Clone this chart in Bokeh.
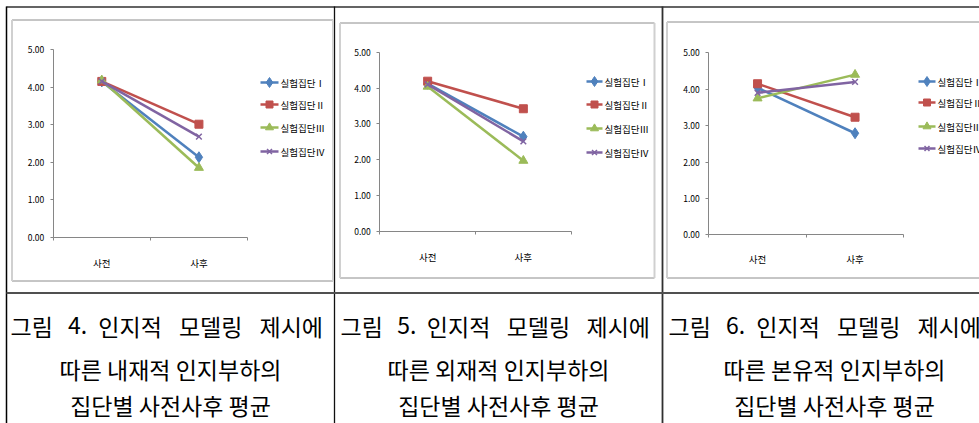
from bokeh.plotting import figure
from bokeh.models import Range1d, LinearAxis, FixedTicker, NumeralTickFormatter, ColumnDataSource
from bokeh.core.properties import value
from bokeh.embed import file_html
from bokeh.resources import INLINE

# ---------------- data ----------------
categories = ["사전", "사후"]
series_names = ["실험집단Ⅰ", "실험집단Ⅱ", "실험집단Ⅲ", "실험집단Ⅳ"]
y_ticks = [0, 1, 2, 3, 4, 5]

fig4_g1 = [4.15, 2.13]
fig4_g2 = [4.15, 3.01]
fig4_g3 = [4.18, 1.85]
fig4_g4 = [4.15, 2.68]

fig5_g1 = [4.12, 2.64]
fig5_g2 = [4.19, 3.42]
fig5_g3 = [4.04, 1.97]
fig5_g4 = [4.10, 2.51]

fig6_g1 = [4.04, 2.79]
fig6_g2 = [4.15, 3.23]
fig6_g3 = [3.75, 4.40]
fig6_g4 = [3.90, 4.20]

caption4 = ["그림 4. 인지적 모델링 제시에", "따른 내재적 인지부하의", "집단별 사전사후 평균"]
caption5 = ["그림 5. 인지적 모델링 제시에", "따른 외재적 인지부하의", "집단별 사전사후 평균"]
caption6 = ["그림 6. 인지적 모델링 제시에", "따른 본유적 인지부하의", "집단별 사전사후 평균"]

# ---------------- styles / layout ----------------
W, H = 979, 423
FONT = "Noto Sans CJK KR"
CAP_SIZE = 23
colors = ["#4F81BD", "#C0504D", "#9BBB59", "#8064A2"]
markers = ["diamond", "square", "triangle", "x"]
msizes = [11, 8, 9, 8]

panels = [
    dict(data=[fig4_g1, fig4_g2, fig4_g3, fig4_g4], caption=caption4,
         ax0=52.7, ax2=247.0, y0=236.7, y5=49.0, xlab_off=16,
         frame=(11.5, 19.5, 332.5, 280.5), leg_x=(260, 278), leg_y=[82, 104, 127, 151],
         cap_x=170, cap_span=(10, 328)),
    dict(data=[fig5_g1, fig5_g2, fig5_g3, fig5_g4], caption=caption5,
         ax0=379.3, ax2=570.7, y0=230.7, y5=51.7, xlab_off=16,
         frame=(339.5, 22.5, 654.0, 277.5), leg_x=(586, 602), leg_y=[81, 104, 128, 152],
         cap_x=498, cap_span=(340, 655)),
    dict(data=[fig6_g1, fig6_g2, fig6_g3, fig6_g4], caption=caption6,
         ax0=708.3, ax2=903.3, y0=234.3, y5=52.3, xlab_off=14,
         frame=(666.5, 21.5, 990.0, 277.5), leg_x=(918, 935), leg_y=[81, 102, 126, 148],
         cap_x=834, cap_span=(668, 986)),
]
caption_y = [325, 368, 404]


def text_width(s, size):
    w = 0.0
    for ch in s:
        if ord(ch) >= 0x1100:
            w += 1.0
        elif ch.isdigit():
            w += 0.55
        elif ch == ".":
            w += 0.26
        else:
            w += 0.3
    return w * size


p = figure(width=W, height=H, x_range=Range1d(0, W), y_range=Range1d(H, 0),
           output_backend="svg", toolbar_location=None,
           x_axis_type=None, y_axis_type=None, min_border=0,
           outline_line_color=None, background_fill_color="white",
           border_fill_color="white")

# table lines
p.segment(x0=[6, 6, 334, 662, 6], y0=[6.5, 6, 6, 6, 292.5],
          x1=[W, 6, 334, 662, W], y1=[6.5, H, H, H, 292.5],
          line_color=["#303030", "#000000", "#101010", "#303030", "#505050"],
          line_width=[1.5, 1.5, 1.3, 1.8, 2])

cat_pos = [i + 0.5 for i in range(len(categories))]
x_overrides = {i + 0.5: c for i, c in enumerate(categories)}

for k, pn in enumerate(panels):
    fx0, fy0, fx1, fy1 = pn["frame"]
    # chart-area frame
    p.segment(x0=[fx0, fx0], y0=[fy0, fy1], x1=[fx1, fx1], y1=[fy0, fy1],
              line_color="#8c8c8c", line_width=1)
    p.segment(x0=[fx0, fx1], y0=[fy0, fy0], x1=[fx0, fx1], y1=[fy1, fy1],
              line_color="#d0d0d0", line_width=2)

    xn, yn = f"x{k}", f"y{k}"
    sx = (pn["ax2"] - pn["ax0"]) / len(categories)
    sy = (pn["y0"] - pn["y5"]) / 5.0
    p.extra_x_ranges[xn] = Range1d(start=-pn["ax0"] / sx, end=(W - pn["ax0"]) / sx)
    p.extra_y_ranges[yn] = Range1d(start=(pn["y0"] - H) / sy, end=pn["y0"] / sy)

    yaxis = LinearAxis(x_range_name=xn, y_range_name=yn, fixed_location=0,
                       bounds=(0, 5), ticker=FixedTicker(ticks=y_ticks),
                       formatter=NumeralTickFormatter(format="0.00"),
                       major_tick_out=3, major_tick_in=0,
                       minor_tick_out=0, minor_tick_in=0,
                       axis_line_color="#868686", major_tick_line_color="#868686",
                       major_label_text_font=FONT, major_label_text_font_size="8.5px",
                       major_label_text_color="#000000", major_label_standoff=6)
    p.add_layout(yaxis, "left")

    xaxis = LinearAxis(x_range_name=xn, y_range_name=yn, fixed_location=0,
                       bounds=(0, len(categories)),
                       ticker=FixedTicker(ticks=cat_pos,
                                          minor_ticks=list(range(len(categories) + 1))),
                       major_label_overrides=x_overrides,
                       major_tick_out=0, major_tick_in=0,
                       minor_tick_out=3, minor_tick_in=0,
                       axis_line_color="#868686", minor_tick_line_color="#868686",
                       major_label_text_font=FONT, major_label_text_font_size="9.5px",
                       major_label_text_color="#000000",
                       major_label_standoff=pn["xlab_off"])
    p.add_layout(xaxis, "below")

    for j, vals in enumerate(pn["data"]):
        src = ColumnDataSource(dict(x=cat_pos, y=vals))
        p.line("x", "y", source=src, x_range_name=xn, y_range_name=yn,
               line_color=colors[j], line_width=2.5)
        p.scatter("x", "y", source=src, x_range_name=xn, y_range_name=yn,
                  marker=markers[j], size=msizes[j], fill_color=colors[j],
                  line_color=colors[j], line_width=1.5 if markers[j] == "x" else 1)

    # legend
    lx0, lx1 = pn["leg_x"]
    ly = pn["leg_y"]
    p.segment(x0=[lx0] * 4, y0=ly, x1=[lx1] * 4, y1=ly, line_color=colors, line_width=2.5)
    for j in range(4):
        p.scatter([(lx0 + lx1) / 2], [ly[j]], marker=markers[j], size=msizes[j] - 1,
                  fill_color=colors[j], line_color=colors[j],
                  line_width=1.5 if markers[j] == "x" else 1)
    p.text(x=[lx1 + 2] * 4, y=ly, text=series_names, text_align="left",
           text_baseline="middle", text_font=value(FONT), text_font_size="9.5px",
           text_color="#000000")

    # caption: first line justified across the cell, others centred
    words = pn["caption"][0].split(" ")
    widths = [text_width(w, CAP_SIZE) for w in words]
    left, right = pn["cap_span"]
    gap = (right - left - sum(widths)) / (len(words) - 1)
    xs, cur = [], left
    for w in widths:
        xs.append(cur)
        cur += w + gap
    p.text(x=xs, y=[caption_y[0]] * len(words), text=words, text_align="left",
           text_baseline="middle", text_font=value(FONT),
           text_font_size=f"{CAP_SIZE}px", text_color="#000000")
    p.text(x=[pn["cap_x"]] * 2, y=caption_y[1:], text=pn["caption"][1:], text_align="center",
           text_baseline="middle", text_font=value(FONT),
           text_font_size=f"{CAP_SIZE}px", text_color="#000000")

open("out.html", "w").write(file_html(p, INLINE))
